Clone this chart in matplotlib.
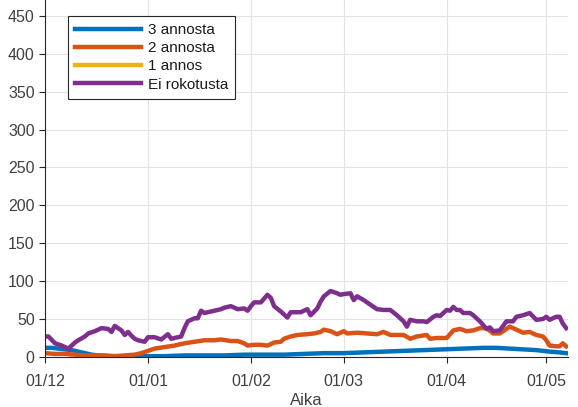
import matplotlib
matplotlib.use('Agg')
import matplotlib.pyplot as plt
import matplotlib.dates as mdates
import pandas as pd

BLUE   = '#0072BD'
ORANGE = '#D95319'
YELLOW = '#EDB120'
PURPLE = '#7E2F8E'
AXC    = '#262626'
TXT    = '#404040'

plt.rcParams['font.family'] = ['Liberation Sans', 'DejaVu Sans']

START = pd.Timestamp('2021-12-01')

# days counted from 1 Dec 2021
blue_days = [0, 2, 4, 6, 8, 10, 12, 14, 16, 19, 24, 30, 36, 42, 48, 54, 60, 66, 72, 78,
             84, 90, 96, 102, 108, 114, 120, 126, 132, 136, 140, 144, 148, 152, 155, 157]
blue_vals = [12, 12, 11, 10, 9, 7, 5, 3, 2, 1, 1, 1, 1, 2, 2, 2, 3, 3, 3, 4,
             5, 5, 6, 7, 8, 9, 10, 11, 12, 12, 11, 10, 9, 7, 6, 5]

orange_days = [0, 3, 6, 9, 12, 15, 18, 21, 24, 27, 29, 31, 33, 36, 39, 42, 45, 48, 51, 53,
               56, 58, 60, 61, 63, 65, 67, 69, 71, 72, 74, 76, 79, 81, 83, 84, 86, 88, 90, 91,
               94, 97, 100, 102, 104, 106, 108, 110, 112, 115, 116, 118, 121, 123, 125, 127,
               129, 131, 133, 135, 137, 140, 142, 144, 146, 148, 150, 151, 152, 154, 155, 156, 157]
orange_vals = [5, 4, 4, 3, 2, 2, 2, 1, 2, 3, 5, 8, 11, 13, 15, 18, 20, 22, 22, 23,
               21, 21, 18, 15, 16, 16, 15, 19, 20, 24, 27, 29, 30, 31, 33, 36, 34, 30, 34, 31,
               32, 31, 30, 33, 29, 29, 29, 24, 27, 29, 24, 25, 25, 35, 37, 34,
               35, 38, 38, 31, 31, 40, 36, 32, 33, 29, 27, 22, 15, 14, 14, 18, 14]

yellow_days = []
yellow_vals = []

purple_days = [0, 1, 3, 5, 6, 7, 9, 10, 12, 13, 15, 17, 19, 20, 21, 23, 24, 25, 26, 27,
               28, 30, 31, 33, 35, 37, 38, 40, 41, 42, 43, 45, 46, 47, 48, 50, 51, 53, 54, 56,
               58, 60, 61, 62, 63, 65, 67, 68, 69, 71, 73, 74, 77, 79, 80, 82, 83, 84, 86, 88,
               89, 90, 92, 93, 94, 96, 98, 100, 102, 104, 106, 108, 109, 110, 112, 114, 115, 117,
               118, 119, 121, 122, 123, 124, 125, 126, 128, 129, 131, 132, 133, 134, 135, 137,
               139, 141, 142, 144, 146, 148, 150, 151, 152, 154, 155, 156, 157]
purple_vals = [27, 27, 18, 15, 13, 11, 19, 22, 27, 31, 34, 38, 37, 33, 41, 35, 29, 33, 28, 24,
               22, 20, 26, 26, 23, 30, 24, 26, 27, 38, 47, 51, 51, 61, 58, 60, 61, 63, 65, 67,
               63, 64, 61, 67, 72, 72, 82, 78, 67, 60, 52, 59, 59, 63, 55, 64, 73, 80, 87, 84,
               82, 83, 84, 75, 80, 75, 69, 63, 62, 62, 55, 47, 40, 49, 47, 47, 46, 53,
               55, 54, 62, 61, 66, 62, 62, 58, 58, 55, 47, 42, 37, 39, 34, 35,
               47, 47, 53, 55, 58, 49, 50, 53, 49, 53, 53, 44, 38]

def to_dates(days):
    return START + pd.to_timedelta(days, unit='D')

fig = plt.figure(figsize=(5.78, 4.07), dpi=100)
fig.patch.set_facecolor('white')
ax = fig.add_axes([0.078, 0.123, 0.905, 0.877])

lw = 3.2
ax.plot(to_dates(blue_days), blue_vals, color=BLUE, lw=lw, label='3 annosta')
ax.plot(to_dates(orange_days), orange_vals, color=ORANGE, lw=lw, label='2 annosta')
ax.plot(to_dates(yellow_days), yellow_vals, color=YELLOW, lw=lw, label='1 annos')
ax.plot(to_dates(purple_days), purple_vals, color=PURPLE, lw=lw, label='Ei rokotusta')

ax.set_xlim(START, to_dates([157.6])[0])
ax.set_ylim(0, 471)
ax.set_yticks(range(0, 451, 50))
ax.xaxis.set_major_locator(mdates.MonthLocator())
ax.xaxis.set_major_formatter(mdates.DateFormatter('%d/%m'))

ax.grid(True, color='#e3e3e3', lw=0.8)
ax.set_axisbelow(True)
ax.spines[['top', 'right']].set_visible(False)
for s in ['left', 'bottom']:
    ax.spines[s].set_color(AXC)
    ax.spines[s].set_linewidth(0.8)
ax.tick_params(direction='out', length=4, width=0.8, colors=AXC, labelcolor=TXT, labelsize=11.5)
ax.tick_params(axis='x', pad=8)
ax.set_xlabel('Aika', fontsize=12, color=TXT, labelpad=3)

leg = ax.legend(loc='upper left', bbox_to_anchor=(0.044, 0.955), borderaxespad=0,
                fontsize=11, handlelength=4.3, handletextpad=0.45, labelspacing=0.28,
                fancybox=False, edgecolor=AXC, framealpha=1, borderpad=0.45)
leg.get_frame().set_linewidth(0.8)
for t in leg.get_texts():
    t.set_color('#1a1a1a')

plt.savefig('out.png', dpi=100)
plt.close()
